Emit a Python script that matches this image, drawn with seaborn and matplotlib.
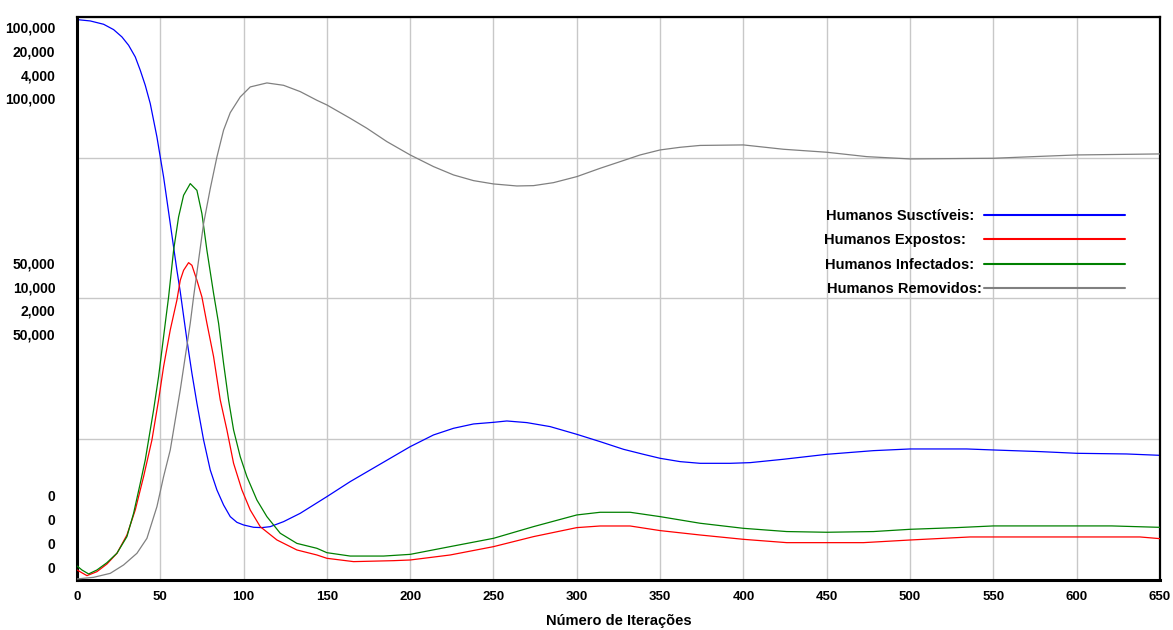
#!/usr/bin/env python3
"""SEIR human compartments over iterations (Vensim-style multi-scale plot)."""

import matplotlib
matplotlib.use("Agg")
import matplotlib.pyplot as plt
import pandas as pd
import seaborn as sns

# values
ITER_S = [0, 8, 16, 22, 27, 31, 35, 38, 41, 44, 46, 48, 50, 52, 54, 56, 58, 60, 62, 64, 66, 69,
          72, 76, 80, 84, 88, 92, 96, 100, 106, 111, 116, 124, 134, 150, 164, 176, 188, 200, 214,
          226, 238, 250, 258, 270, 284, 300, 314, 328, 340, 350, 362, 374, 392, 404, 424, 450,
          478, 500, 534, 550, 578, 600, 630, 650]
SUSCETIVEIS = [99530, 99290, 98700, 97750, 96450, 94970, 92900, 90530, 87860, 84610, 81650,
               78690, 75130, 71580, 67440, 63290, 59150, 55000, 51200, 46900, 42630, 36710,
               31380, 24870, 19540, 15990, 13320, 11250, 10240, 9770, 9360, 9300, 9470, 10360,
               11840, 14800, 17470, 19540, 21610, 23680, 25760, 26940, 27710, 28000, 28240,
               27950, 27240, 25870, 24570, 23210, 22320, 21610, 21020, 20720, 20720, 20840,
               21440, 22320, 22970, 23270, 23270, 23090, 22800, 22500, 22380, 22140]

ITER_E = [0, 6, 12, 18, 24, 30, 35, 40, 45, 49, 52, 56, 60, 62, 64, 67, 69, 72, 75, 78, 82, 86,
          90, 94, 99, 104, 110, 120, 132, 144, 150, 166, 190, 200, 224, 250, 274, 300, 314, 332,
          350, 374, 400, 426, 450, 472, 500, 536, 550, 600, 638, 650]
EXPOSTOS = [356, 154, 296, 568, 948, 1598, 2486, 3672, 4974, 6394, 7580, 8882, 9946, 10646,
            11000, 11272, 11178, 10646, 10054, 9118, 7934, 6394, 5328, 4144, 3198, 2486, 1894,
            1422, 1066, 888, 770, 652, 686, 710, 888, 1184, 1540, 1860, 1918, 1918, 1754, 1598,
            1444, 1326, 1326, 1326, 1420, 1528, 1528, 1528, 1528, 1468]

ITER_I = [0, 3, 7, 12, 18, 24, 30, 34, 38, 41, 43, 46, 49, 51, 53, 55, 58, 61, 64, 68, 72, 75,
          78, 82, 85, 88, 91, 94, 98, 102, 108, 114, 122, 132, 144, 150, 164, 184, 200, 224, 250,
          274, 300, 314, 332, 350, 374, 400, 426, 450, 478, 500, 528, 550, 600, 621, 650]
INFECTADOS = [100, 71, 43, 71, 123, 190, 308, 474, 687, 853, 995, 1208, 1445, 1634, 1824, 2010,
              2342, 2579, 2733, 2816, 2768, 2603, 2342, 2036, 1824, 1539, 1279, 1066, 876, 734,
              568, 450, 332, 260, 225, 194, 170, 170, 182, 237, 296, 379, 462, 481, 481, 450,
              403, 367, 344, 339, 344, 360, 372, 384, 384, 384, 374]

ITER_R = [0, 2, 10, 20, 28, 36, 42, 48, 52, 56, 59, 62, 65, 68, 70, 73, 76, 80, 84, 88, 92, 98,
          104, 114, 124, 134, 144, 150, 164, 174, 186, 200, 214, 226, 238, 250, 264, 274, 286,
          300, 314, 326, 338, 350, 362, 374, 400, 424, 450, 474, 500, 550, 574, 600, 650]
REMOVIDOS = [180, 240, 470, 1180, 2670, 4740, 7400, 13030, 18350, 23090, 28420, 33750, 39670,
             45590, 50270, 56780, 63290, 69500, 75130, 79900, 83000, 85790, 87570, 88280, 87860,
             86740, 85200, 84370, 82000, 80230, 77860, 75490, 73420, 71940, 70930, 70340, 69980,
             70040, 70570, 71640, 73120, 74300, 75490, 76380, 76850, 77180, 77270, 76500, 75970,
             75190, 74780, 74900, 75190, 75490, 75670]

SCALE_TOPS = [100000, 20000, 4000, 100000]  # S, E, I, R
LABELS = ["Humanos Susctíveis:  ", "Humanos Expostos:    ", "Humanos Infectados:  ",
          "Humanos Removidos:"]
COLORS = ["#0000ff", "#ff0000", "#008000", "#808080"]
X_TICKS = list(range(0, 651, 50))

FONT = ["Liberation Sans", "DejaVu Sans"]


def main():
    sns.set_theme(style="white")
    plt.rcParams["font.family"] = FONT
    plt.rcParams["text.color"] = "black"
    plt.rcParams["axes.labelcolor"] = "black"
    plt.rcParams["xtick.color"] = "black"

    series = [(ITER_S, SUSCETIVEIS), (ITER_E, EXPOSTOS), (ITER_I, INFECTADOS), (ITER_R, REMOVIDOS)]

    fig = plt.figure(figsize=(11.73, 6.3), dpi=100)
    ax = fig.add_axes([0.0656, 0.0794, 0.9233, 0.8937])
    axes = [ax] + [ax.twinx() for _ in range(3)]

    lines = []
    for a, (xs, ys), top, color in zip(axes, series, SCALE_TOPS, COLORS):
        df = pd.DataFrame({"iter": xs, "val": ys})
        sns.lineplot(data=df, x="iter", y="val", ax=a, color=color, linewidth=0.9,
                     estimator=None, legend=False)
        lines.append(a.get_lines()[-1])
        a.set_ylim(0, top)
        a.set_xlim(0, 650)
        a.set_xlabel("")
        a.set_ylabel("")
        if a is not ax:
            a.set_yticks([])
            for sp in a.spines.values():
                sp.set_visible(False)

    # grid on the main axis only
    top = SCALE_TOPS[0]
    ax.set_yticks([top * f for f in (0, 0.25, 0.5, 0.75, 1.0)])
    ax.set_yticklabels([])
    ax.tick_params(axis="y", length=0)
    ax.set_xticks(X_TICKS)
    ax.set_xticklabels([str(t) for t in X_TICKS], fontsize=9.5, fontweight="bold")
    ax.tick_params(axis="x", length=3, width=1, direction="out", pad=5)
    ax.grid(True, color="#c8c8c8", linewidth=1)
    for name, sp in ax.spines.items():
        sp.set_color("black")
        sp.set_linewidth(2.2 if name in ("left", "bottom") else 1.6)

    ax.set_xlabel("Número de Iterações", fontsize=10.5, fontweight="bold", labelpad=8)

    # Vensim style stacked scale labels (one per variable)
    step = 0.0425
    stacks = [
        (0.980, [f"{t:,}" for t in SCALE_TOPS]),
        (0.561, [f"{t // 2:,}" for t in SCALE_TOPS]),
        (0.147, ["0" for _ in SCALE_TOPS]),
    ]
    for y0, texts in stacks:
        for i, txt in enumerate(texts):
            ax.text(-0.02, y0 - i * step, txt, transform=ax.transAxes, ha="right", va="center",
                    fontsize=10, fontweight="bold")

    leg = axes[-1].legend(lines, LABELS, loc="upper right", bbox_to_anchor=(0.9677, 0.659),
                          frameon=False, markerfirst=False, handlelength=9.7,
                          handletextpad=0.1, labelspacing=0.72, borderpad=0, borderaxespad=0,
                          prop={"family": FONT, "size": 10.5, "weight": "bold"})
    for h in leg.legend_handles:
        h.set_linewidth(1.5)

    fig.savefig("out.png", dpi=100)


if __name__ == "__main__":
    main()
